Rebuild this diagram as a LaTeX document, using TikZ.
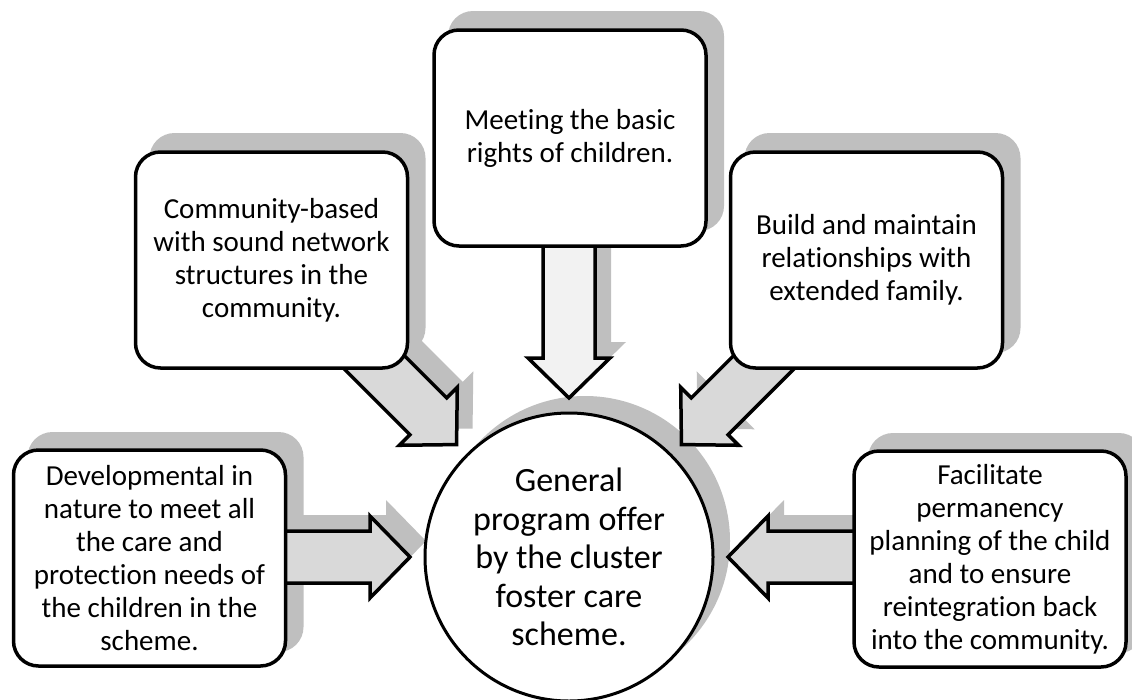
\documentclass[tikz,border=0pt]{standalone}
\usepackage{fontspec}
\setmainfont{Carlito}[Ligatures={CommonOff,ContextualOff},RawFeature={-liga;-clig;-calt;-dlig}]
\usetikzlibrary{calc}
\definecolor{shadowgray}{RGB}{191,191,191}
\definecolor{arrowgray}{RGB}{217,217,217}
\definecolor{arrowlight}{RGB}{242,242,242}
% #1 style, #2 base coordinate, #3 tip coordinate, #4 prefix for helper coordinate
\newcommand\blockarrow[4]{%
  \coordinate (#4h) at ($(#3)!40pt!(#2)$);
  \path[#1] ($(#2)!26pt!90:(#3)$) -- ($(#4h)!26pt!90:(#3)$) -- ($(#4h)!41pt!90:(#3)$)
    -- (#3) -- ($(#4h)!41pt!-90:(#3)$) -- ($(#4h)!26pt!-90:(#3)$) -- ($(#2)!26pt!-90:(#3)$) -- cycle;
}
\tikzset{
  box/.style={draw=black, line width=3.5pt, fill=white, rounded corners=25pt,
    minimum width=272pt, minimum height=216pt, align=center, inner sep=2pt,
    font=\fontsize{29}{33}\selectfont},
  boxshadow/.style={fill=shadowgray, rounded corners=25pt,
    minimum width=276pt, minimum height=220pt, inner sep=0pt},
  hub/.style={draw=black, line width=3pt, fill=white, circle, minimum size=288pt,
    inner sep=0pt, align=center, font=\fontsize{34}{38.5}\selectfont},
  hubshadow/.style={fill=shadowgray, circle, minimum size=290pt, inner sep=0pt},
  fatarrow/.style={draw=black, line width=3.5pt, line join=miter, fill=arrowgray},
  fatarrowlight/.style={fatarrow, fill=arrowlight},
  arrowshadow/.style={fill=shadowgray},
}
\begin{document}
\begin{tikzpicture}[x=1pt,y=-1pt]
\useasboundingbox (0,0) rectangle (1132,699);
\clip (0,0) rectangle (1132,699);
% ---- positions ----
\coordinate (pG) at (569,557);
\coordinate (pL) at (149.5,558);
\coordinate (pC) at (271.5,260);
\coordinate (pT) at (570,138);
\coordinate (pB) at (866.5,260);
\coordinate (pR) at (990,559);
% ---- shadows of boxes and hub ----
\node[boxshadow] (Ls) at ($(pL)+(16,-16)$) {};
\node[boxshadow] (Cs) at ($(pC)+(16,-17)$) {};
\node[boxshadow] (Ts) at ($(pT)+(16,-17)$) {};
\node[boxshadow] (Bs) at ($(pB)+(16,-17)$) {};
\node[boxshadow] (Rs) at ($(pR)+(16,-16)$) {};
\node[hubshadow] (Gs) at ($(pG)+(16,-16)$) {};
% ---- arrow base and tip coordinates ----
\coordinate (bC) at ($(pG)+(-235,-235)$);
\coordinate (bT) at ($(pG)+(0,-360)$);
\coordinate (bB) at ($(pG)+(235,-235)$);
\coordinate (bL) at ($(pG)+(-400,0)$);
\coordinate (bR) at ($(pG)+(420,0)$);
\coordinate (tC) at ($(pG)!159pt!(bC)$);
\coordinate (tT) at ($(pG)!159pt!(bT)$);
\coordinate (tB) at ($(pG)!159pt!(bB)$);
\coordinate (tL) at ($(pG)!159pt!(bL)$);
\coordinate (tR) at ($(pG)!159pt!(bR)$);
\foreach \k in {C,T,B,L,R}{
  \coordinate (bs\k) at ($(b\k)+(16,-16)$);
  \coordinate (ts\k) at ($(t\k)+(16,-16)$);
}
% ---- arrow shadows ----
\blockarrow{arrowshadow}{bsC}{tsC}{sc}
\blockarrow{arrowshadow}{bsT}{tsT}{st}
\blockarrow{arrowshadow}{bsB}{tsB}{sb}
\blockarrow{arrowshadow}{bsL}{tsL}{sl}
\blockarrow{arrowshadow}{bsR}{tsR}{sr}
% ---- arrows ----
\blockarrow{fatarrow}{bC}{tC}{ac}
\blockarrow{fatarrowlight}{bT}{tT}{at}
\blockarrow{fatarrow}{bB}{tB}{ab}
\blockarrow{fatarrow}{bL}{tL}{al}
\blockarrow{fatarrow}{bR}{tR}{ar}
% ---- boxes ----
\node[box] (L) at (pL) {Developmental in\\nature to meet all\\the care and\\protection needs of\\the children in the\\scheme.};
\node[box] (C) at (pC) {Community-based\\with sound network\\structures in the\\community.};
\node[box] (T) at (pT) {Meeting the basic\\rights of children.};
\node[box] (B) at (pB) {Build and maintain\\relationships with\\extended family.};
\node[box] (R) at (pR) {Facilitate\\permanency\\planning of the child\\and to ensure\\reintegration back\\into the community.};
\node[hub] (G) at (pG) {General\\program offer\\by the cluster\\foster care\\scheme.};
\end{tikzpicture}
\end{document}
